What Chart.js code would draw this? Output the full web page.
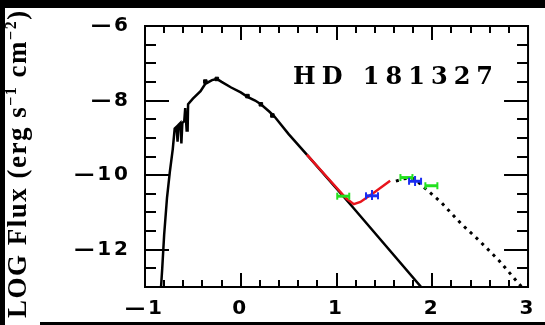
<!DOCTYPE html>
<html>
<head>
<meta charset="utf-8">
<script src="https://cdn.jsdelivr.net/npm/chart.js@4.4.1/dist/chart.umd.min.js"></script>
<style>
  body { margin: 0; background: #fff; }
  canvas { display: block; }
</style>
</head>
<body>
<canvas id="chartjs-0" width="545" height="325"></canvas>
<script>
// photosphere model (black solid)
var starX = [-0.84, -0.82, -0.80, -0.77, -0.74, -0.71, -0.69, -0.67, -0.66, -0.65, -0.63, -0.62, -0.61, -0.59, -0.58, -0.565, -0.555, -0.55, -0.5, -0.42, -0.37, -0.3, -0.25, -0.2, -0.1, 0.0, 0.07, 0.15, 0.21, 0.3, 0.35, 0.5, 0.69, 1.15, 1.9];
var starY = [-13.3, -12.5, -11.6, -10.6, -9.9, -9.3, -8.75, -8.7, -9.1, -8.65, -8.6, -9.15, -8.6, -8.55, -8.2, -8.8, -8.8, -8.1, -7.95, -7.75, -7.55, -7.45, -7.42, -7.5, -7.65, -7.78, -7.9, -8.0, -8.1, -8.3, -8.42, -8.9, -9.45, -10.8, -13.05];

// photometry on the photosphere
var photX = [-0.37, -0.25, 0.07, 0.21, 0.33];
var photY = [-7.49, -7.42, -7.88, -8.1, -8.4];

// red IRS spectrum
var irsX = [0.69, 0.9, 1.1, 1.18, 1.25, 1.4, 1.56];
var irsY = [-9.45, -10.05, -10.62, -10.78, -10.72, -10.45, -10.15];

// dust model (dotted)
var dustX = [1.62, 1.7, 1.76, 1.82, 1.9, 2.0, 2.1, 2.3, 2.5, 2.7, 2.9, 2.97];
var dustY = [-10.16, -10.1, -10.08, -10.1, -10.3, -10.52, -10.75, -11.3, -11.78, -12.3, -12.9, -13.1];

// green and blue fluxes
var greenX = [1.07, 1.73, 1.99];
var greenY = [-10.55, -10.05, -10.27];
var blueX = [1.37, 1.82];
var blueY = [-10.54, -10.15];

var xTicks = [-1, 0, 1, 2, 3];
var yTicks = [-12, -10, -8, -6];

function pts(xs, ys) {
    var out = [];
    for (let i = 0; i < xs.length; i++) {
        out.push({x: xs[i], y: ys[i]});
    }
    return out;
}

function marker(color, cross) {
    var c = document.createElement('canvas');
    c.width = 16; c.height = 10;
    var g = c.getContext('2d');
    g.fillStyle = color;
    g.fillRect(1, 4, 14, 3);
    g.fillRect(1, 2, 2, 7);
    g.fillRect(13, 2, 2, 7);
    if (cross) g.fillRect(7, 0, 2, 10);
    return c;
}

var framePlugin = {
    id: 'frame',
    beforeDraw: function(chart) {
        var ctx = chart.ctx;
        ctx.save();
        ctx.fillStyle = '#fff';
        ctx.fillRect(0, 0, chart.width, chart.height);
        ctx.restore();
        ctx.letterSpacing = '3px';
    },
    afterDraw: function(chart) {
        var ctx = chart.ctx;
        var a = chart.chartArea;
        var xs = chart.scales.x, ys = chart.scales.y;
        ctx.save();
        ctx.letterSpacing = '0px';
        ctx.strokeStyle = '#000';
        ctx.lineWidth = 2;
        ctx.strokeRect(a.left, a.top, a.right - a.left, a.bottom - a.top);
        ctx.beginPath();
        for (let v = -1; v <= 3.001; v += 0.2) {
            var px = Math.round(xs.getPixelForValue(v));
            var len = Math.abs(v - Math.round(v)) < 0.01 ? 14 : 7;
            ctx.moveTo(px, a.bottom); ctx.lineTo(px, a.bottom - len);
            ctx.moveTo(px, a.top); ctx.lineTo(px, a.top + len);
        }
        for (let v = -13; v <= -5.999; v += 0.5) {
            var py = Math.round(ys.getPixelForValue(v));
            var len2 = (Math.abs(v % 2) < 0.01) ? 24 : 11;
            ctx.moveTo(a.left, py); ctx.lineTo(a.left + len2, py);
            ctx.moveTo(a.right, py); ctx.lineTo(a.right - len2, py);
        }
        ctx.stroke();

        // object name
        ctx.fillStyle = '#000';
        ctx.font = 'bold 24px "DejaVu Serif"';
        ctx.letterSpacing = '6px';
        ctx.textBaseline = 'alphabetic';
        ctx.fillText('HD 181327', 293, 84);

        // y axis label, runs off the picture
        ctx.letterSpacing = '1.5px';
        ctx.translate(26, 318);
        ctx.rotate(-Math.PI / 2);
        var big = 'bold 27px "Liberation Serif"';
        var small = 'bold 16px "Liberation Serif"';
        ctx.font = big;
        var u = -ctx.measureText('2) ').width;
        var parts = [['2) LOG Flux (erg s', big, 0], ['\u22121', small, -10], [' cm', big, 0], ['\u22122', small, -10], [')', big, 0]];
        parts.forEach(function(p) {
            ctx.font = p[1];
            ctx.fillText(p[0], u, p[2]);
            u += ctx.measureText(p[0]).width;
        });
        ctx.restore();

        // scan border
        ctx.save();
        ctx.fillStyle = '#000';
        ctx.fillRect(0, 0, chart.width, 8);
        ctx.fillRect(0, 0, 5, chart.height);
        ctx.fillRect(40, 322, chart.width - 40, 3);
        ctx.restore();
    }
};

var tickFont = {family: '"DejaVu Sans"', size: 20, weight: 'bold'};
// long dash like the plotting package's minus sign
function fmt(v) {
    return v < 0 ? '\u2014' + Math.abs(v) : String(v);
}

var ctx = document.getElementById('chartjs-0');
var myChart = new Chart(ctx, {
    type: 'scatter',
    data: {
        datasets: [
            {data: pts(starX, starY), showLine: true, borderColor: '#000', borderWidth: 2.5, pointRadius: 0, tension: 0, order: 5},
            {data: pts(irsX, irsY), showLine: true, borderColor: '#e8141c', borderWidth: 2.5, pointRadius: 0, tension: 0, order: 2},
            {data: pts(dustX, dustY), showLine: true, borderColor: '#000', borderWidth: 3, borderDash: [3, 5], pointRadius: 0, tension: 0, order: 4},
            {data: pts(photX, photY), pointStyle: 'rect', pointRadius: 2.5, backgroundColor: '#000', borderColor: '#000', order: 3},
            {data: pts(greenX, greenY), pointStyle: marker('#22e01e', false), order: 1},
            {data: pts(blueX, blueY), pointStyle: marker('#1a2cf0', true), order: 0}
        ]
    },
    options: {
        responsive: false,
        animation: false,
        layout: {padding: {top: 25, right: 10, left: 0, bottom: 0}},
        plugins: {legend: {display: false}, tooltip: {enabled: false}},
        scales: {
            x: {
                type: 'linear', position: 'bottom', min: -1, max: 3,
                afterBuildTicks: function(s) { s.ticks = xTicks.map(function(v) { return {value: v}; }); },
                ticks: {font: tickFont, color: '#000', padding: 10, maxRotation: 0, callback: fmt},
                grid: {display: false, drawTicks: false},
                border: {display: false},
                afterFit: function(s) { s.height = 38; }
            },
            y: {
                type: 'linear', position: 'left', min: -13, max: -6,
                afterBuildTicks: function(s) { s.ticks = yTicks.map(function(v) { return {value: v}; }); },
                ticks: {font: tickFont, color: '#000', padding: 14, callback: fmt},
                grid: {display: false, drawTicks: false},
                border: {display: false},
                afterFit: function(s) { s.width = 145; }
            }
        }
    },
    plugins: [framePlugin]
});
</script>
</body>
</html>
